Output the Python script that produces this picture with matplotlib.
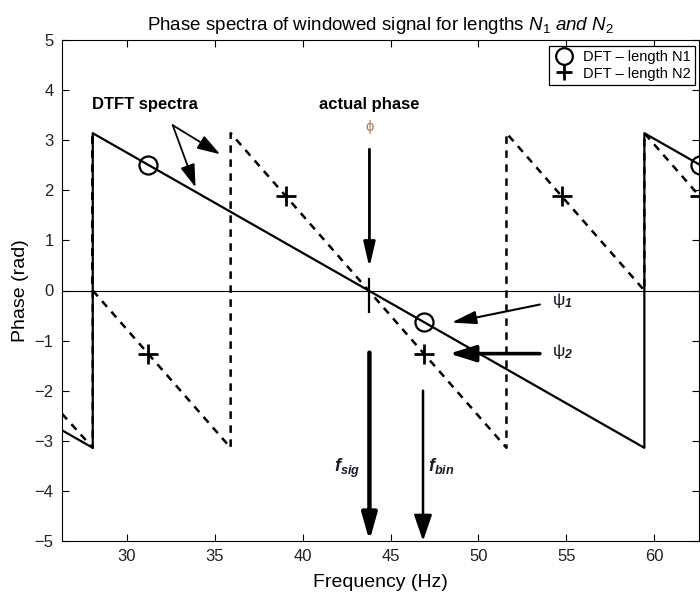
import matplotlib
matplotlib.use('Agg')
import matplotlib.pyplot as plt

plt.rcParams['font.family'] = ['Liberation Sans', 'DejaVu Sans']
plt.rcParams['mathtext.fontset'] = 'custom'
plt.rcParams['mathtext.rm'] = 'Liberation Sans'
plt.rcParams['mathtext.it'] = 'Liberation Sans:italic'
plt.rcParams['mathtext.bf'] = 'Liberation Sans:bold'
plt.rcParams['mathtext.bfit'] = 'Liberation Sans:italic:bold'

# DTFT phase, length N1 (solid) - vertices
freq_n1 = [26.3, 28.05, 28.05, 59.45, 59.45, 62.6]
phase_n1 = [-2.79, -3.14, 3.14, -3.14, 3.14, 2.51]

# DTFT phase, length N2 (dashed)
freq_n2 = [26.3, 28.05, 28.05, 28.05, 35.9, 35.9, 51.6, 51.6, 59.45, 59.45, 62.6]
phase_n2 = [-2.46, -3.14, 3.14, 0.0, -3.14, 3.14, -3.14, 3.14, 0.0, 3.14, 1.88]

# DFT bins
bins_n1 = [31.2, 46.9, 62.6]
dft_n1 = [2.51, -0.63, 2.51]
bins_n2 = [31.2, 39.05, 46.9, 54.75, 62.6]
dft_n2 = [-1.26, 1.88, -1.26, 1.88, 1.88]

f_sig = 43.8
f_bin = 46.85

fig = plt.figure(figsize=(7.0, 5.94), dpi=100)
ax = fig.add_axes([62 / 700, 1 - 541 / 594, 637 / 700, 501 / 594])

ax.axhline(0, color='k', lw=0.8, zorder=1)
ax.plot(freq_n1, phase_n1, color='k', lw=1.6, zorder=3)
ax.plot(freq_n2, phase_n2, color='k', lw=1.8, dashes=(3, 2.6), zorder=3)

ax.plot(bins_n1, dft_n1, 'o', ms=13, mfc='none', mec='k', mew=1.6,
        label='DFT – length N1', zorder=4)
ax.plot(bins_n2, dft_n2, '+', ms=15, mec='k', mew=2.0,
        label='DFT – length N2', zorder=4)

# short mark where the spectra cross zero
ax.plot([f_sig, f_sig], [0.22, -0.43], color='k', lw=1.6)

# annotations
ax.text(28.0, 3.72, 'DTFT spectra', fontsize=12, fontweight='bold',
        va='center', ha='left')
for tip in [(35.3, 2.72), (33.9, 2.06)]:
    ax.annotate('', xy=tip, xytext=(32.6, 3.3),
                arrowprops=dict(arrowstyle='-|>,head_length=14,head_width=4.5',
                                mutation_scale=1, lw=1.3, color='k',
                                shrinkA=0, shrinkB=0))

ax.text(f_sig, 3.72, 'actual phase', fontsize=12, fontweight='bold',
        va='center', ha='center')
ax.text(f_sig, 3.26, 'ϕ', fontsize=10.5, color='#a87a4a', va='center', ha='center')
ax.annotate('', xy=(f_sig, 0.46), xytext=(f_sig, 2.82),
            arrowprops=dict(arrowstyle='-|>,head_length=15,head_width=3.5',
                            mutation_scale=1, lw=2.0, color='k',
                            shrinkA=0, shrinkB=0))

ax.text(54.2, -0.2, r'$\mathrm{\psi}_{\mathbfit{1}}$', fontsize=12.5, va='center',
        ha='left', color='#1a1a2e')
ax.annotate('', xy=(48.47, -0.64), xytext=(53.5, -0.28),
            arrowprops=dict(arrowstyle='-|>,head_length=15,head_width=4',
                            mutation_scale=1, lw=1.5, color='k',
                            shrinkA=0, shrinkB=0))
ax.text(54.2, -1.22, r'$\mathrm{\psi}_{\mathbfit{2}}$', fontsize=12.5, va='center',
        ha='left', color='#1a1a2e')
ax.annotate('', xy=(48.35, -1.26), xytext=(53.5, -1.26),
            arrowprops=dict(arrowstyle='-|>,head_length=16,head_width=5',
                            mutation_scale=1, lw=2.6, color='k',
                            shrinkA=0, shrinkB=0))

ax.text(42.55, -3.55, r'$\mathbfit{f}_{\mathbfit{sig}}$', fontsize=13,
        va='center', ha='center', color='#1a1a2e')
ax.annotate('', xy=(f_sig, -5.0), xytext=(f_sig, -1.24),
            arrowprops=dict(arrowstyle='-|>,head_length=16,head_width=4.5',
                            mutation_scale=1, lw=3.2, color='k',
                            shrinkA=0, shrinkB=0))
ax.text(47.9, -3.5, r'$\mathbfit{f}_{\mathbfit{bin}}$', fontsize=13,
        va='center', ha='center', color='#1a1a2e')
ax.annotate('', xy=(f_bin, -5.0), xytext=(f_bin, -2.0),
            arrowprops=dict(arrowstyle='-|>,head_length=16,head_width=5.5',
                            mutation_scale=1, lw=1.8, color='k',
                            shrinkA=0, shrinkB=0))

ax.set_xlim(26.3, 62.56)
ax.set_ylim(-5, 5)
ax.set_xticks([30, 35, 40, 45, 50, 55, 60])
ax.set_yticks(range(-5, 6))
ax.tick_params(direction='in', top=True, right=True, length=5,
               labelsize=12, width=0.8, pad=6, labelcolor='#222222')
for s in ax.spines.values():
    s.set_linewidth(0.8)

ax.set_xlabel('Frequency (Hz)', fontsize=14, labelpad=7)
ax.set_ylabel('Phase (rad)', fontsize=14, labelpad=4)
ax.set_title(r'Phase spectra of windowed signal for lengths $\mathit{N_1\ and\ N_2}$',
             fontsize=13.5, pad=7)

leg = ax.legend(loc='upper right', bbox_to_anchor=(0.9937, 0.988),
                borderaxespad=0, fontsize=10.5, fancybox=False,
                edgecolor='k', framealpha=1, handlelength=1.4,
                handletextpad=0.6, borderpad=0.3, labelspacing=0.15)
leg.get_frame().set_linewidth(0.9)
for h in leg.legend_handles:
    h.set_markersize(12)

fig.savefig('out.png', dpi=100)
